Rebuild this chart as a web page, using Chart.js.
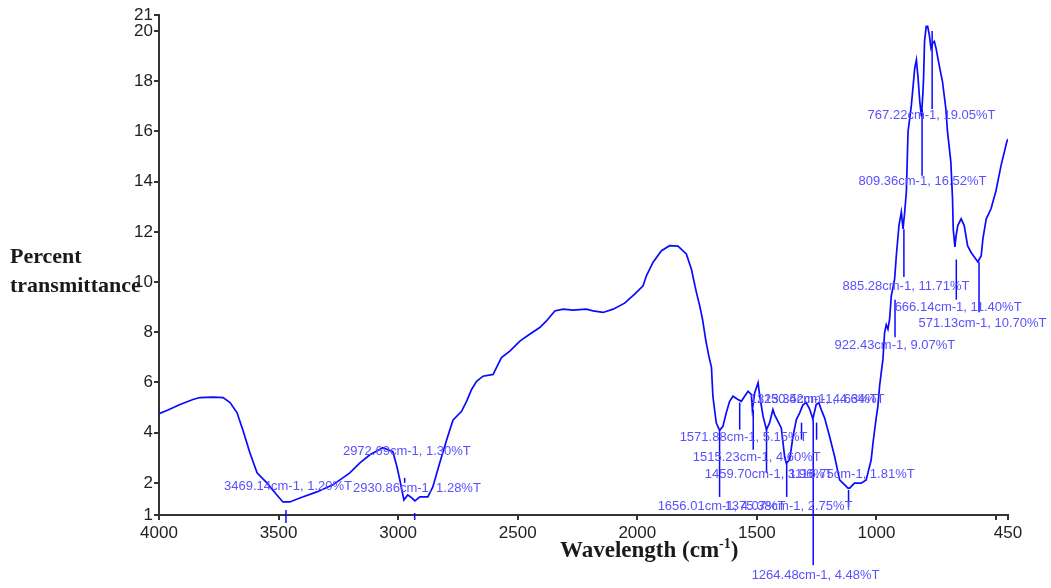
<!DOCTYPE html>
<html><head><meta charset="utf-8">
<script src="https://cdn.jsdelivr.net/npm/chart.js@4.4.0/dist/chart.umd.min.js"></script>
<style>html,body{margin:0;padding:0;background:#fff;} #wrap{width:1051px;height:588px;}</style>
</head><body><div id="wrap"><canvas id="c" width="1051" height="588"></canvas></div>
<script>
// ---- data ----
const wavenumbers = [4000,3967,3912,3858,3829,3774,3732,3703,3674,3649,3620,3590,3549,3507,3482,3453,3411,3340,3273,3202,3160,3118,3064,3022,3005,2993,2976,2960,2943,2930,2909,2876,2855,2826,2797,2771,2735,2714,2693,2672,2645,2603,2589,2568,2533,2491,2450,2408,2380,2345,2310,2269,2213,2185,2143,2101,2053,2011,1976,1962,1934,1899,1865,1830,1795,1774,1753,1739,1727,1714,1702,1690,1684,1670,1656,1642,1628,1614,1600,1579,1565,1551,1537,1523,1519,1509,1495,1488,1474,1460,1447,1433,1426,1412,1398,1384,1377,1363,1349,1335,1321,1308,1294,1280,1266,1252,1241,1231,1217,1196,1175,1154,1133,1119,1112,1092,1064,1043,1036,1022,1015,1001,994,987,980,973,966,959,952,945,938,924,917,906,896,889,882,875,868,854,840,833,826,819,812,806,803,799,792,786,779,772,765,758,751,738,724,710,703,689,682,679,672,667,660,646,633,619,605,590,576,562,555,541,521,500,479,465,455,450];
const transmittance = [4.76,4.88,5.12,5.32,5.40,5.42,5.40,5.20,4.80,4.10,3.20,2.40,2.00,1.52,1.24,1.24,1.40,1.64,1.92,2.40,2.80,3.12,3.40,3.24,2.64,2.12,1.32,1.52,1.40,1.28,1.44,1.44,1.84,2.80,3.72,4.50,4.85,5.25,5.72,6.05,6.25,6.32,6.59,6.99,7.25,7.65,7.92,8.19,8.45,8.85,8.92,8.88,8.92,8.85,8.79,8.92,9.16,9.52,9.85,10.25,10.79,11.25,11.45,11.43,11.12,10.52,9.59,9.05,8.50,7.70,7.10,6.60,5.45,4.39,4.09,4.25,4.79,5.25,5.45,5.32,5.25,5.45,5.65,5.52,4.92,5.59,5.99,5.45,4.65,4.12,4.39,4.92,4.72,4.45,4.19,3.05,2.79,2.92,3.85,4.52,4.79,5.10,5.20,4.95,4.55,5.12,5.19,4.92,4.59,3.85,3.05,2.12,1.92,1.79,1.79,1.99,1.99,2.12,2.39,2.92,3.55,4.60,5.05,5.85,6.39,6.92,7.99,8.30,8.12,8.52,9.45,10.12,11.05,12.25,12.79,12.12,12.79,13.59,15.99,17.05,18.52,18.85,18.12,17.20,16.60,17.50,18.12,19.59,20.19,20.19,19.85,19.32,19.52,19.59,19.32,18.65,17.99,16.92,15.99,14.79,13.32,12.12,11.40,11.85,12.25,12.52,12.25,11.45,11.19,10.99,10.80,11.05,11.72,12.52,12.92,13.65,14.65,15.19,15.59,15.70];

const xTickValues = [4000,3500,3000,2500,2000,1500,1000,500,450];
const xTickLabels = ['4000','3500','3000','2500','2000','1500','1000','','450'];
const yTickValues = [0.72,2,4,6,8,10,12,14,16,18,20,20.64];
const yTickLabels = ['1','2','4','6','8','10','12','14','16','18','20','21'];

const peakWn      = [3469.14,2972.69,2930.86,1656.01,1375.38,1571.88,1515.23,1459.70,1116.75,1313.35,1250.42,1264.48,767.22,809.36,885.28,666.14,571.13,922.43];
const peakText    = ['3469.14cm-1, 1.20%T','2972.69cm-1, 1.30%T','2930.86cm-1, 1.28%T','1656.01cm-1, 4.07%T','1375.38cm-1, 2.75%T','1571.88cm-1, 5.15%T','1515.23cm-1, 4.60%T','1459.70cm-1, 3.96%T','1116.75cm-1, 1.81%T','1313.35cm-1, 4.63%T','1250.42cm-1, 4.64%T','1264.48cm-1, 4.48%T','767.22cm-1, 19.05%T','809.36cm-1, 16.52%T','885.28cm-1, 11.71%T','666.14cm-1, 11.40%T','571.13cm-1, 10.70%T','922.43cm-1, 9.07%T'];
const markerTop   = [0.92,2.20,0.80,4.09,2.79,5.20,4.92,4.12,1.72,4.40,4.40,4.52,20.0,16.9,12.1,10.9,10.8,9.3];
const markerBottom= [0.40,2.00,0.52,1.44,1.44,4.12,3.32,2.40,1.04,3.72,3.72,-1.28,16.9,14.24,10.2,9.3,8.8,7.8];
const labelWn     = [3728,3231,3189,1915,1635,1823,1768,1718,1367,1530,1501,1522,1037,1075,1142,924,824,1175];
const labelT      = [1.84,3.24,1.76,1.08,1.08,3.80,3.00,2.32,2.32,5.32,5.32,-1.68,16.64,14.0,9.84,9.0,8.36,7.48];

// ---- drawing ----
const annotPlugin = {
  id: 'annot',
  afterDraw(chart) {
    const {ctx, scales: {x, y}} = chart;
    ctx.save();
    ctx.strokeStyle = '#0a0aff';
    ctx.lineWidth = 1.5;
    peakWn.forEach((w, i) => {
      const px = x.getPixelForValue(w);
      ctx.beginPath();
      ctx.moveTo(px, y.getPixelForValue(markerTop[i]));
      ctx.lineTo(px, y.getPixelForValue(markerBottom[i]));
      ctx.stroke();
    });
    ctx.fillStyle = '#5a50ff';
    ctx.font = '13px "Liberation Sans", Arial, sans-serif';
    ctx.textBaseline = 'middle';
    ctx.textAlign = 'left';
    peakText.forEach((t, i) => {
      ctx.fillText(t, x.getPixelForValue(labelWn[i]), y.getPixelForValue(labelT[i]));
    });
    // axis titles
    ctx.fillStyle = '#1a1a1a';
    ctx.font = 'bold 22px "Liberation Serif", "Times New Roman", serif';
    ctx.textBaseline = 'middle';
    ctx.fillText('Percent', 10, 257);
    ctx.fillText('transmittance', 10, 286);
    ctx.font = 'bold 23px "Liberation Serif", "Times New Roman", serif';
    ctx.textBaseline = 'alphabetic';
    const t1 = 'Wavelength (cm';
    let xx = 560;
    ctx.fillText(t1, xx, 557);
    xx += ctx.measureText(t1).width;
    ctx.font = 'bold 14px "Liberation Serif", "Times New Roman", serif';
    ctx.fillText('-1', xx, 548);
    xx += ctx.measureText('-1').width;
    ctx.font = 'bold 23px "Liberation Serif", "Times New Roman", serif';
    ctx.fillText(')', xx, 557);
    ctx.restore();
  }
};

const tickFont = {family: '"Liberation Sans", Arial, sans-serif', size: 17};
new Chart(document.getElementById('c').getContext('2d'), {
  type: 'line',
  data: {
    datasets: [{
      data: wavenumbers.map((w, i) => ({x: w, y: transmittance[i]})),
      borderColor: '#0a0aff',
      borderWidth: 1.7,
      pointRadius: 0,
      tension: 0,
      fill: false
    }]
  },
  options: {
    responsive: false,
    animation: false,
    devicePixelRatio: 1,
    layout: {padding: {left: 0, top: 15, right: 43, bottom: 0}},
    plugins: {legend: {display: false}, tooltip: {enabled: false}},
    scales: {
      x: {
        type: 'linear', reverse: true, min: 450, max: 4000,
        afterBuildTicks: s => { s.ticks = xTickValues.map(v => ({value: v})); },
        afterFit: s => { s.height = 73; },
        ticks: {autoSkip: false, maxRotation: 0, minRotation: 0, padding: 3, color: '#222', font: tickFont,
                callback: (v, i) => xTickLabels[i]},
        grid: {display: true, drawOnChartArea: false, drawTicks: true, tickLength: 5, color: '#333', lineWidth: 2},
        border: {display: true, color: '#333', width: 2}
      },
      y: {
        type: 'linear', min: 0.72, max: 20.64,
        afterBuildTicks: s => { s.ticks = yTickValues.map(v => ({value: v})); },
        afterFit: s => { s.width = 159; },
        ticks: {autoSkip: false, padding: 1, color: '#222', font: tickFont,
                callback: (v, i) => yTickLabels[i]},
        grid: {display: true, drawOnChartArea: false, drawTicks: true, tickLength: 5, color: '#333', lineWidth: 2},
        border: {display: true, color: '#333', width: 2}
      }
    }
  },
  plugins: [annotPlugin]
});
</script>
</body></html>
